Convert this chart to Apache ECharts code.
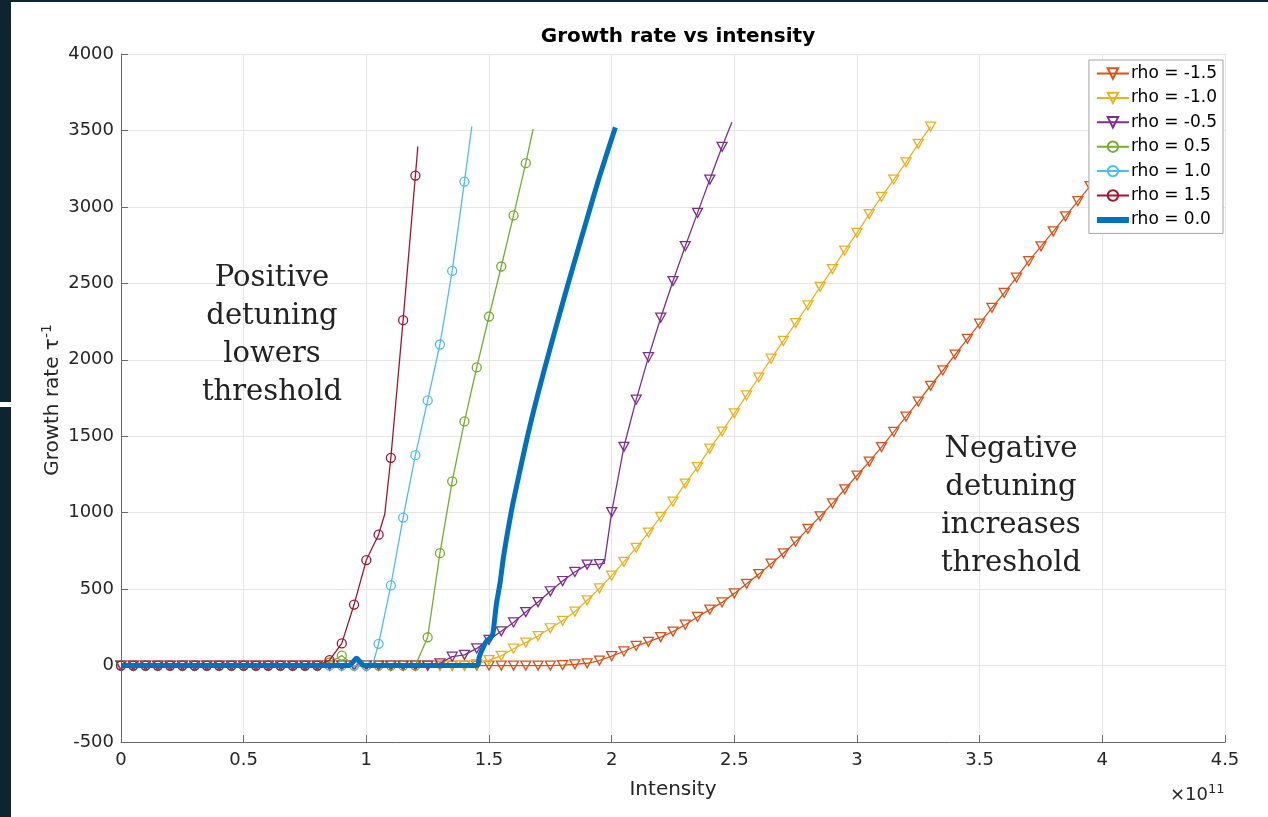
<!DOCTYPE html>
<html>
<head>
<meta charset="utf-8">
<title>Growth rate vs intensity</title>
<script src="https://cdn.jsdelivr.net/npm/echarts@6/dist/echarts.min.js"></script>
<style>
  html, body { margin: 0; padding: 0; background: #ffffff; }
  #chart { width: 1268px; height: 817px; }
</style>
</head>
<body>
<div id="chart"></div>
<script>
// Intensity sampling grid (units of 1e11), shared by the marked series
const intensity = [
  0, 0.05, 0.1, 0.15, 0.2, 0.25, 0.3, 0.35, 0.4, 0.45,
  0.5, 0.55, 0.6, 0.65, 0.7, 0.75, 0.8, 0.85, 0.9, 0.95,
  1.0, 1.05, 1.1, 1.15, 1.2, 1.25, 1.3, 1.35, 1.4, 1.45,
  1.5, 1.55, 1.6, 1.65, 1.7, 1.75, 1.8, 1.85, 1.9, 1.95,
  2.0, 2.05, 2.1, 2.15, 2.2, 2.25, 2.3, 2.35, 2.4, 2.45,
  2.5, 2.55, 2.6, 2.65, 2.7, 2.75, 2.8, 2.85, 2.9, 2.95,
  3.0, 3.05, 3.1, 3.15, 3.2, 3.25, 3.3, 3.35, 3.4, 3.45,
  3.5, 3.55, 3.6, 3.65, 3.7, 3.75, 3.8, 3.85, 3.9, 3.95,
  4.0, 4.05
];

// Growth rate on the grid above, one array per detuning rho
const rateRhoM15 = [
  0, 0, 0, 0, 0, 0, 0, 0, 0, 0,
  0, 0, 0, 0, 0, 0, 0, 0, 0, 0,
  0, 0, 0, 0, 0, 0, 0, 0, 0, 0,
  0, 0, 0, 0, 0, 0, 3, 8, 15, 33,
  62, 92, 128, 155, 186, 222, 267, 318, 366, 413,
  472, 535, 598, 666, 734, 810, 894, 976, 1061, 1153,
  1243, 1334, 1429, 1528, 1628, 1726, 1830, 1930, 2033, 2137,
  2236, 2340, 2437, 2537, 2645, 2742, 2840, 2938, 3038, 3136,
  3236, 3335
];
const rateRhoM10 = [
  0, 0, 0, 0, 0, 0, 0, 0, 0, 0,
  0, 0, 0, 0, 0, 0, 0, 0, 0, 0,
  0, 0, 0, 0, 0, 0, 0, 0, 0, 10,
  36, 64, 110, 150, 193, 244, 293, 352, 427, 505,
  588, 678, 770, 870, 972, 1072, 1190, 1298, 1419, 1530,
  1650, 1767, 1884, 2007, 2123, 2240, 2356, 2477, 2593, 2714,
  2830, 2953, 3065, 3179, 3291, 3412, 3525
];
const rateRhoM05 = [
  0, 0, 0, 0, 0, 0, 0, 0, 0, 0,
  0, 0, 0, 0, 0, 0, 0, 0, 0, 0,
  0, 0, 0, 0, 0, 0, 15, 58, 70, 112,
  168, 224, 282, 350, 415, 486, 553, 612, 660, 664,
  1004, 1431, 1739, 2017, 2275, 2515, 2743, 2961, 3179, 3393
];
const rateRhoP05 = [
  0, 0, 0, 0, 0, 0, 0, 0, 0, 0,
  0, 0, 0, 0, 0, 0, 0, 20, 65, 0,
  0, 0, 0, 0, 0, 185, 735, 1205, 1597, 1950,
  2283, 2610, 2944, 3286
];
const rateRhoP10 = [
  0, 0, 0, 0, 0, 0, 0, 0, 0, 0,
  0, 0, 0, 0, 0, 0, 0, 0, 0, 0,
  0, 142, 524, 968, 1376, 1734, 2100, 2581, 3165
];
const rateRhoP15 = [
  0, 0, 0, 0, 0, 0, 0, 0, 0, 0,
  0, 0, 0, 0, 0, 0, 0, 35, 145, 399,
  690, 856, 1359, 2259, 3205
];

// Samples between the marked grid points (no marker drawn)
const extraRhoM05 = [[1.97, 668], [2.49, 3554]];
const extraRhoP05 = [[1.68, 3510]];
const extraRhoP10 = [[1.025, 0], [1.43, 3526]];
const extraRhoP15 = [[1.075, 990], [1.21, 3395]];

// rho = 0 curve, finely sampled, drawn as a plain thick line
const intensityRho0 = [
  0, 0.93, 0.945, 0.96, 0.975, 0.99, 1.45, 1.46, 1.475, 1.49,
  1.505, 1.515, 1.52, 1.53, 1.545, 1.56, 1.59, 1.62, 1.66, 1.7,
  1.75, 1.8, 1.85, 1.9, 1.95, 2.015
];
const rateRho0 = [
  0, 0, 22, 48, 22, 0, 0, 55, 115, 160,
  180, 205, 260, 400, 540, 720, 1000, 1230, 1520, 1780,
  2080, 2370, 2650, 2925, 3195, 3520
];

const seriesNames = ['rho = -1.5', 'rho = -1.0', 'rho = -0.5', 'rho = 0.5', 'rho = 1.0', 'rho = 1.5', 'rho = 0.0'];
const seriesColors = ['#D95319', '#EDB120', '#7E2F8E', '#77AC30', '#4DBEEE', '#A2142F', '#0072BD'];

const xTickValues = [0, 0.5, 1, 1.5, 2, 2.5, 3, 3.5, 4, 4.5];
const yTickValues = [-500, 0, 500, 1000, 1500, 2000, 2500, 3000, 3500, 4000];

const sansFont = '"DejaVu Sans", "Liberation Sans", sans-serif';
const serifFont = '"DejaVu Serif", "Liberation Serif", serif';

// Marked points on the grid plus unmarked in-between samples, in intensity order
function buildPoints(rates, extras) {
  const pts = rates.map((y, i) => ({ value: [intensity[i], y] }));
  (extras || []).forEach(p => pts.push({ value: [p[0], p[1]], symbol: 'none' }));
  pts.sort((a, b) => a.value[0] - b.value[0]);
  return pts;
}

function markedSeries(idx, rates, extras, shape) {
  const c = seriesColors[idx];
  return {
    name: seriesNames[idx],
    type: 'line',
    data: buildPoints(rates, extras),
    symbol: shape,
    symbolSize: shape === 'triangle' ? [10, 9] : 9,
    symbolRotate: shape === 'triangle' ? 180 : 0,
    showAllSymbol: true,
    lineStyle: { color: c, width: 1.3 },
    itemStyle: { color: 'rgba(255,255,255,0)', borderColor: c, borderWidth: 1.3 },
    emphasis: { disabled: true },
    z: 2 + idx
  };
}

const series = [
  markedSeries(0, rateRhoM15, [], 'triangle'),
  markedSeries(1, rateRhoM10, [], 'triangle'),
  markedSeries(2, rateRhoM05, extraRhoM05, 'triangle'),
  markedSeries(3, rateRhoP05, extraRhoP05, 'circle'),
  markedSeries(4, rateRhoP10, extraRhoP10, 'circle'),
  markedSeries(5, rateRhoP15, extraRhoP15, 'circle'),
  {
    name: seriesNames[6],
    type: 'line',
    data: intensityRho0.map((x, i) => [x, rateRho0[i]]),
    symbol: 'none',
    smooth: 0.3,
    lineStyle: { color: seriesColors[6], width: 5 },
    itemStyle: { color: 'rgba(255,255,255,0)', borderColor: 'rgba(255,255,255,0)' },
    emphasis: { disabled: true },
    z: 10
  }
];

const legendItems = seriesNames.map((n, i) =>
  i === 6 ? { name: n, lineStyle: { width: 6, color: seriesColors[6] } } : { name: n });

const chart = echarts.init(document.getElementById('chart'), null, { renderer: 'canvas' });

chart.setOption({
  animation: false,
  backgroundColor: '#ffffff',
  title: {
    text: 'Growth rate vs intensity',
    left: 673,
    textAlign: 'center',
    top: 22,
    textStyle: { fontFamily: sansFont, fontSize: 20, fontWeight: 'bold', color: '#000000' }
  },
  grid: { left: 121, right: 43, top: 54, bottom: 75, containLabel: false },
  legend: {
    orient: 'vertical',
    right: 45,
    top: 60,
    data: legendItems,
    itemWidth: 32,
    itemHeight: 13,
    itemGap: 7.4,
    padding: [5, 6, 5, 5],
    backgroundColor: '#ffffff',
    borderColor: '#a6a6a6',
    borderWidth: 1,
    borderRadius: 0,
    selectedMode: false,
    textStyle: { fontFamily: sansFont, fontSize: 17, color: '#000000', padding: [0, 0, 0, -3] },
    z: 20
  },
  xAxis: {
    type: 'value',
    min: 0,
    max: 4.5,
    interval: 0.5,
    name: 'Intensity',
    nameLocation: 'middle',
    nameGap: 38,
    nameTextStyle: { fontFamily: sansFont, fontSize: 20, color: '#262626' },
    axisLine: { show: true, onZero: false, lineStyle: { color: '#6a6a6a', width: 1 } },
    axisTick: { show: true, inside: true, length: 7, lineStyle: { color: '#6a6a6a' } },
    axisLabel: {
      fontFamily: sansFont, fontSize: 18, color: '#262626', margin: 9,
      formatter: v => xTickValues.indexOf(v) >= 0 ? String(v) : ''
    },
    splitLine: { show: true, lineStyle: { color: '#e6e6e6', width: 1 } }
  },
  yAxis: {
    type: 'value',
    min: -500,
    max: 4000,
    interval: 500,
    axisLine: { show: true, onZero: false, lineStyle: { color: '#6a6a6a', width: 1 } },
    axisTick: { show: true, inside: true, length: 7, lineStyle: { color: '#6a6a6a' } },
    axisLabel: {
      fontFamily: sansFont, fontSize: 18, color: '#262626', margin: 7,
      formatter: v => yTickValues.indexOf(v) >= 0 ? String(v) : ''
    },
    splitLine: { show: true, lineStyle: { color: '#e6e6e6', width: 1 } }
  },
  graphic: [
    // dark frame strips along the left and top edges
    { type: 'rect', left: 0, top: 0, shape: { width: 11, height: 402 }, style: { fill: '#0f2431' }, z: 100 },
    { type: 'rect', left: 0, top: 407, shape: { width: 11, height: 410 }, style: { fill: '#0f2431' }, z: 100 },
    { type: 'rect', left: 0, top: 0, shape: { width: 1268, height: 2 }, style: { fill: '#0f2431' }, z: 100 },
    // y axis title, rotated
    {
      type: 'text', x: 53, y: 400, rotation: Math.PI / 2, z: 100,
      style: {
        text: 'Growth rate τ{sup|-1}',
        align: 'center', verticalAlign: 'middle',
        fontFamily: sansFont, fontSize: 20, fill: '#262626', lineHeight: 26,
        rich: { sup: { fontFamily: sansFont, fontSize: 14, fill: '#262626', verticalAlign: 'top', lineHeight: 26 } }
      }
    },
    // axis exponent
    {
      type: 'text', left: 1170, top: 783, z: 100,
      style: {
        text: '×10{sup|11}',
        fontFamily: sansFont, fontSize: 18, fill: '#262626',
        rich: { sup: { fontFamily: sansFont, fontSize: 13, fill: '#262626', verticalAlign: 'top', lineHeight: 24 } },
        lineHeight: 24
      }
    },
    {
      type: 'text', x: 272, y: 259, z: 100,
      style: {
        text: 'Positive\ndetuning\nlowers\nthreshold',
        align: 'center', verticalAlign: 'top',
        fontFamily: serifFont, fontSize: 29, lineHeight: 38, fill: '#222222'
      }
    },
    {
      type: 'text', x: 1011, y: 430, z: 100,
      style: {
        text: 'Negative\ndetuning\nincreases\nthreshold',
        align: 'center', verticalAlign: 'top',
        fontFamily: serifFont, fontSize: 29, lineHeight: 38, fill: '#222222'
      }
    }
  ],
  series: series
});
</script>
</body>
</html>
